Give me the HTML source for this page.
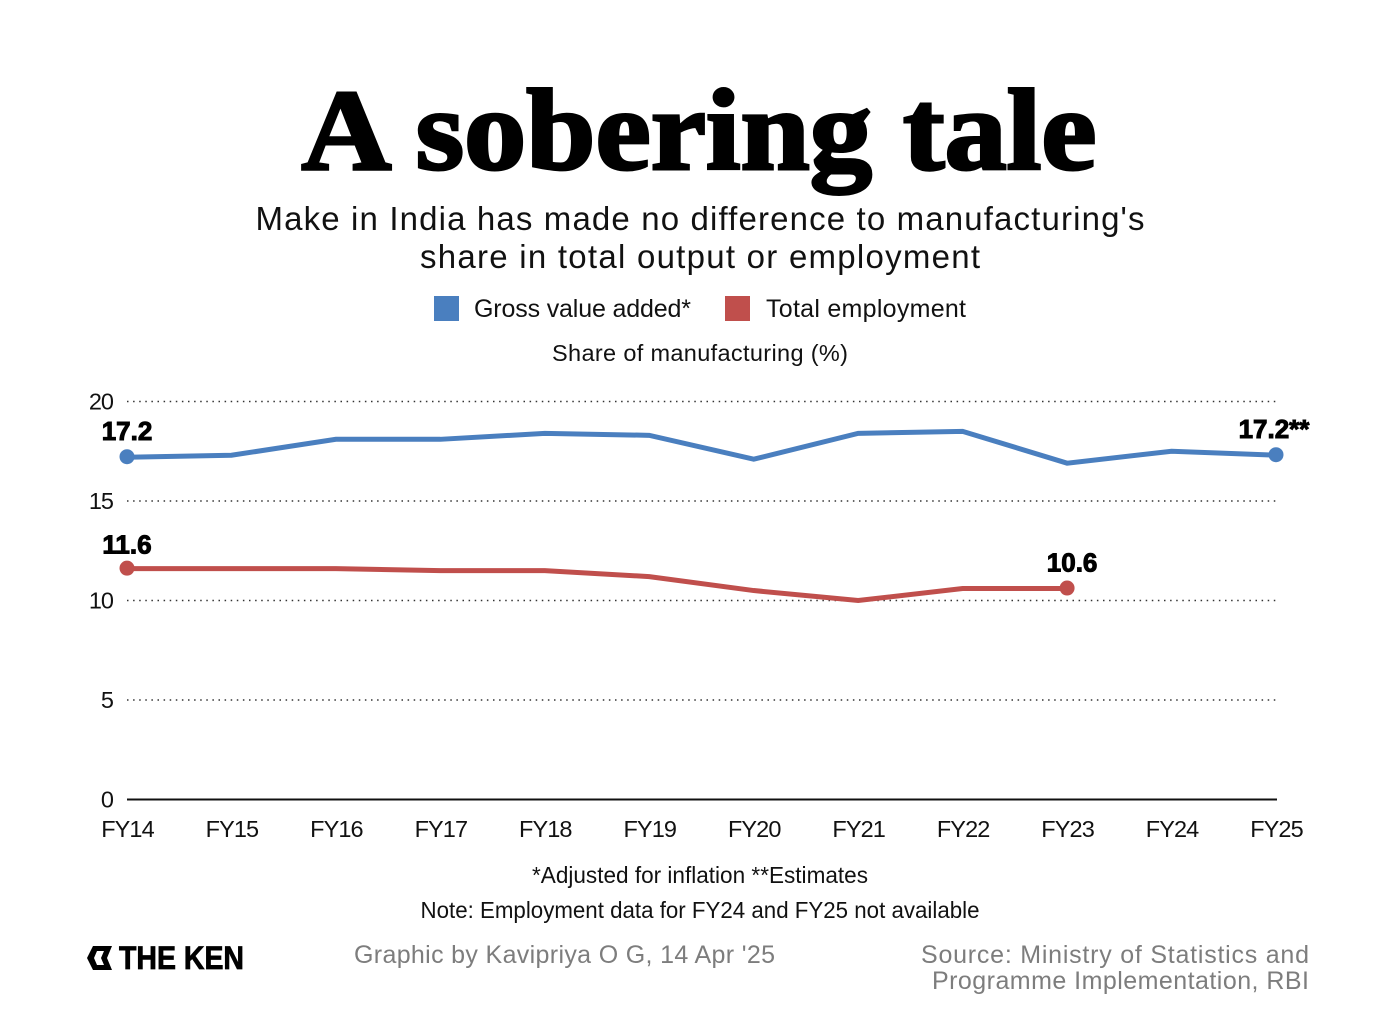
<!DOCTYPE html>
<html lang="en">
<head>
<meta charset="utf-8">
<title>A sobering tale</title>
<style>
html,body{margin:0;padding:0;background:#fff;width:1400px;height:1027px;overflow:hidden}
svg{display:block}
text{font-family:"Liberation Sans",sans-serif;fill:#111}
</style>
</head>
<body>
<svg id="chart" width="1400" height="1027" viewBox="0 0 1400 1027">
  <rect width="1400" height="1027" fill="#fff"/>
  <text x="699" y="169" text-anchor="middle" textLength="795" lengthAdjust="spacingAndGlyphs" font-size="116" font-weight="700" stroke="#000" stroke-width="3" style="font-family:'Liberation Serif',serif;fill:#000">A sobering tale</text>
  <text x="700" y="230" text-anchor="middle" textLength="889" lengthAdjust="spacing" font-size="33">Make in India has made no difference to manufacturing's</text>
  <text x="700" y="268" text-anchor="middle" textLength="560" lengthAdjust="spacing" font-size="33">share in total output or employment</text>

  <rect x="434" y="296" width="25" height="25" fill="#4a7fbf"/>
  <text x="474" y="317" textLength="217" lengthAdjust="spacing" font-size="25">Gross value added*</text>
  <rect x="725" y="296" width="25" height="25" fill="#c04f4c"/>
  <text x="766" y="317" textLength="200" lengthAdjust="spacing" font-size="25">Total employment</text>
  <text x="700" y="361" text-anchor="middle" textLength="296" lengthAdjust="spacing" font-size="23.5">Share of manufacturing (%)</text>

  <g id="grid"></g>
  <g id="yticks"></g>
  <g id="xticks"></g>
  <g id="series"></g>
  <g id="labels"></g>

  <text x="700" y="883" text-anchor="middle" textLength="336" lengthAdjust="spacingAndGlyphs" font-size="23.5">*Adjusted for inflation **Estimates</text>
  <text x="700" y="918" text-anchor="middle" textLength="559" lengthAdjust="spacingAndGlyphs" font-size="23.5">Note: Employment data for FY24 and FY25 not available</text>

  <g>
    <path d="M87 958 L93 946 L112 946 L107 958 L112 970 L93 970 Z M94 958 L97 951 L104 951 L101 958 L104 965 L97 965 Z" fill="#000" fill-rule="evenodd"/>
    <text x="119" y="969" textLength="125" lengthAdjust="spacingAndGlyphs" font-size="32" font-weight="700" stroke="#000" stroke-width="0.8" style="fill:#000">THE KEN</text>
  </g>
  <text x="354" y="963" textLength="421" lengthAdjust="spacing" font-size="25" style="fill:#7d7d7d">Graphic by Kavipriya O G, 14 Apr '25</text>
  <text x="1309" y="963" text-anchor="end" textLength="388" lengthAdjust="spacing" font-size="25" style="fill:#7d7d7d">Source: Ministry of Statistics and</text>
  <text x="1309" y="989" text-anchor="end" textLength="377" lengthAdjust="spacing" font-size="25" style="fill:#7d7d7d">Programme Implementation, RBI</text>
</svg>
<script>
const categories = ["FY14","FY15","FY16","FY17","FY18","FY19","FY20","FY21","FY22","FY23","FY24","FY25"];
const gvaValues = [17.2,17.3,18.1,18.1,18.4,18.3,17.1,18.4,18.5,16.9,17.5,17.3];
const employmentValues = [11.6,11.6,11.6,11.5,11.5,11.2,10.5,10.0,10.6,10.6];
const yTicks = [0,5,10,15,20];
const gvaFirstLabel = "17.2";
const gvaLastLabel = "17.2**";
const employmentFirstLabel = "11.6";
const employmentLastLabel = "10.6";

const NS = "http://www.w3.org/2000/svg";
const xAt = i => 127 + i * (1276 - 127) / (categories.length - 1);
const yAt = v => 799.5 - v * (799.5 - 401.5) / 20;

function make(parent, tag, attrs, txt) {
  const el = document.createElementNS(NS, tag);
  for (const k in attrs) el.setAttribute(k, attrs[k]);
  if (txt !== undefined) el.textContent = txt;
  parent.appendChild(el);
  return el;
}

const grid = document.getElementById("grid");
const yG = document.getElementById("yticks");
yTicks.forEach(t => {
  const line = make(grid, "line", t === 0
    ? {x1:127, x2:1277, y1:yAt(t), y2:yAt(t), stroke:"#111", "stroke-width":2}
    : {x1:127, x2:1279, y1:yAt(t), y2:yAt(t), stroke:"#333", "stroke-width":1.5, "stroke-dasharray":"1.5 4.6"});
  
  
  const lab = make(yG, "text", {x:113, y:yAt(t) + 8, "text-anchor":"end", "font-size":23.5, "letter-spacing":-1}, String(t));
  
  
});

const xG = document.getElementById("xticks");
categories.forEach((c, i) => {
  const lab = make(xG, "text", {x:xAt(i) + 0.5, y:837, "text-anchor":"middle", "font-size":23.5, "letter-spacing":-0.9}, c);
  
  
});

const seriesG = document.getElementById("series");
function drawSeries(values, color, name) {
  const pts = values.map((v, i) => xAt(i) + "," + yAt(v)).join(" ");
  const line = make(seriesG, "polyline", {points:pts, fill:"none", stroke:color, "stroke-width":5, "stroke-linejoin":"miter"});
  
  
  const last = values.length - 1;
  [0, last].forEach(i => {
    const dot = make(seriesG, "circle", {cx:xAt(i), cy:yAt(values[i]) - 0.5, r:7.5, fill:color});
    
    
  });
}
drawSeries(gvaValues, "#4a7fbf", "gva");
drawSeries(employmentValues, "#c04f4c", "employment");

const labelG = document.getElementById("labels");
function valueLabel(x, y, txt) {
  const t = make(labelG, "text", {x:x, y:y, "text-anchor":"middle", "font-size":26, "font-weight":700, stroke:"#000", "stroke-width":1, style:"fill:#000"}, txt);
  
  
}
valueLabel(xAt(0), yAt(gvaValues[0]) - 17, gvaFirstLabel);
valueLabel(xAt(categories.length - 1) - 2, yAt(gvaValues[gvaValues.length - 1]) - 17, gvaLastLabel);
valueLabel(xAt(0), yAt(employmentValues[0]) - 15, employmentFirstLabel);
valueLabel(xAt(employmentValues.length - 1) + 5, yAt(employmentValues[employmentValues.length - 1]) - 17, employmentLastLabel);
</script>
</body>
</html>
